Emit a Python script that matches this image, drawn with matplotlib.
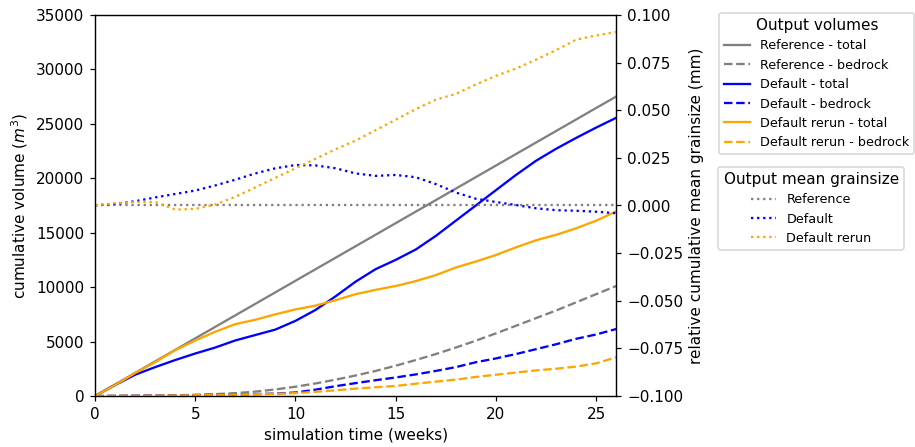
import numpy as np
import matplotlib
matplotlib.use("Agg")
import matplotlib.pyplot as plt

# simulation time (weeks)
weeks = [0, 1, 2, 3, 4, 5, 6, 7, 8, 9, 10, 11, 12, 13, 14, 15, 16, 17,
         18, 19, 20, 21, 22, 23, 24, 25, 26]

# cumulative volumes (m^3)
ref_total = [0, 1058, 2116, 3174, 4232, 5290, 6348, 7406, 8464, 9522,
             10580, 11638, 12696, 13754, 14812, 15870, 16928, 17986,
             19044, 20102, 21160, 22218, 23276, 24334, 25392, 26450, 27500]
ref_bedrock = [0, 10, 20, 40, 70, 110, 170, 260, 400, 600, 850, 1150,
               1500, 1880, 2300, 2780, 3300, 3850, 4450, 5080, 5750,
               6450, 7150, 7850, 8600, 9350, 10100]
def_total = [0, 1000, 1950, 2650, 3300, 3900, 4450, 5100, 5600, 6100,
             6900, 7900, 9150, 10500, 11650, 12500, 13450, 14700, 16100,
             17500, 18900, 20300, 21600, 22700, 23700, 24650, 25550]
def_bedrock = [0, 10, 20, 30, 50, 80, 110, 140, 170, 220, 320, 580,
               900, 1180, 1450, 1700, 1980, 2300, 2650, 3100, 3450,
               3850, 4300, 4750, 5250, 5650, 6150]
rerun_total = [0, 1000, 2100, 3100, 4200, 5100, 5900, 6600, 7000, 7500,
               7950, 8300, 8800, 9350, 9750, 10100, 10550, 11100, 11800,
               12350, 12950, 13650, 14300, 14800, 15400, 16100, 16950]
rerun_bedrock = [0, 10, 20, 30, 50, 70, 100, 130, 160, 200, 260, 380,
                 520, 680, 800, 920, 1130, 1320, 1500, 1750, 1950, 2150,
                 2350, 2500, 2700, 3000, 3550]

# relative cumulative mean grainsize (mm)
ref_grain = [0.0] * len(weeks)
def_grain = [0.0, 0.0008, 0.0022, 0.0042, 0.006, 0.0078, 0.0105, 0.0135,
             0.0168, 0.0195, 0.0212, 0.021, 0.0195, 0.0168, 0.0155,
             0.016, 0.0148, 0.0112, 0.0068, 0.0035, 0.0018, 0.0002,
             -0.0015, -0.0025, -0.0028, -0.0033, -0.0041]
rerun_grain = [0.0, 0.0012, 0.0018, 0.0018, -0.0022, -0.0018, 0.0005,
               0.0045, 0.0095, 0.0145, 0.0195, 0.0245, 0.0295, 0.034,
               0.0395, 0.045, 0.0505, 0.0555, 0.0585, 0.0635, 0.068,
               0.0718, 0.0765, 0.0815, 0.087, 0.0892, 0.091]

fig = plt.figure(figsize=(8.32, 4.065), dpi=110)
ax = fig.add_axes([0.1038, 0.1141, 0.5695, 0.8523])
ax2 = ax.twinx()

l1, = ax.plot(weeks, ref_total, color="grey", label="Reference - total")
l2, = ax.plot(weeks, ref_bedrock, color="grey", linestyle="--",
              label="Reference - bedrock")
l3, = ax.plot(weeks, def_total, color="blue", label="Default - total")
l4, = ax.plot(weeks, def_bedrock, color="blue", linestyle="--",
              label="Default - bedrock")
l5, = ax.plot(weeks, rerun_total, color="orange",
              label="Default rerun - total")
l6, = ax.plot(weeks, rerun_bedrock, color="orange", linestyle="--",
              label="Default rerun - bedrock")

g1, = ax2.plot(weeks, ref_grain, color="grey", linestyle=":",
               label="Reference")
g2, = ax2.plot(weeks, def_grain, color="blue", linestyle=":",
               label="Default")
g3, = ax2.plot(weeks, rerun_grain, color="orange", linestyle=":",
               label="Default rerun")

ax.set_xlim(0, 26)
ax.set_ylim(0, 35000)
ax2.set_ylim(-0.1, 0.1)
ax.set_xlabel("simulation time (weeks)")
ax.set_ylabel("cumulative volume ($m^3$)")
ax2.set_ylabel("relative cumulative mean grainsize (mm)")

fig.legend(handles=[l1, l2, l3, l4, l5, l6], title="Output volumes",
           loc="upper left", bbox_to_anchor=(0.786, 0.971),
           borderaxespad=0, fontsize="small", title_fontsize=10)
fig.legend(handles=[g1, g2, g3], title="Output mean grainsize",
           loc="upper left", bbox_to_anchor=(0.785, 0.627),
           borderaxespad=0, fontsize="small", title_fontsize=10)

plt.savefig("out.png", dpi=110)
